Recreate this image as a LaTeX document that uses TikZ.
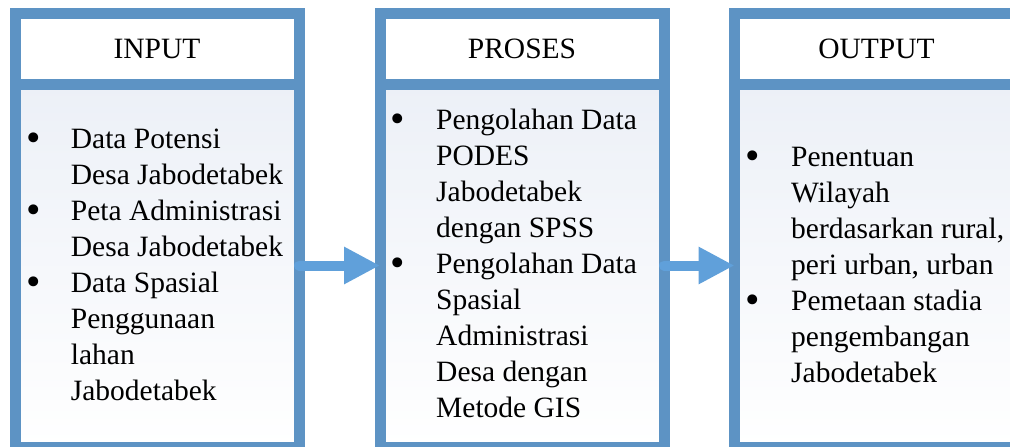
\documentclass[tikz,border=0pt]{standalone}
\usepackage{fontspec}
\setmainfont{Liberation Serif}
\newfontfamily\timesfont{Liberation Serif}
\usetikzlibrary{arrows.meta, positioning}
\definecolor{frameblue}{RGB}{93,147,196}
\definecolor{arrowblue}{RGB}{96,160,218}
\definecolor{bodytop}{RGB}{236,240,247}
\newcommand{\bul}{\raisebox{-3pt}{\scalebox{1.4}{\textbullet}}}

\begin{document}
\begin{tikzpicture}[
    x=1pt, y=-1pt,
    frame/.style={rectangle, draw=frameblue, line width=11pt, outer sep=0pt, minimum width=284pt},
    head/.style={frame, fill=white, minimum height=71pt, font=\timesfont\fontsize{29.5}{36}\selectfont},
    body/.style={frame, top color=bodytop, bottom color=white, minimum height=363pt},
    items/.style={anchor=base west, inner sep=0pt, font=\timesfont\fontsize{29.5}{36}\selectfont},
    flow/.style={arrowblue, line width=10pt, line cap=round, -{Triangle[length=36pt, width=35pt]}}
]
    \useasboundingbox (0,0) rectangle (1010,447);

    % Header nodes
    \node[head] (inHead) at (157,48.5) {INPUT};
    \node[head, right=81pt of inHead] (procHead) {PROSES};
    \node[head, right=70.5pt of procHead] (outHead) {OUTPUT};

    % Body nodes
    \node[body, below=0pt of inHead] (inBody) {};
    \node[body, below=0pt of procHead] (procBody) {};
    \node[body, below=0pt of outHead] (outBody) {};

    % Bullet lists
    \node[items] (inList) at (26,148) {\begin{tabular}[t]{@{}p{44.7pt}@{}l@{}}
        \bul & Data Potensi\\
             & Desa Jabodetabek\\
        \bul & Peta Administrasi\\
             & Desa Jabodetabek\\
        \bul & Data Spasial\\
             & Penggunaan\\
             & lahan\\
             & Jabodetabek
    \end{tabular}};
    \node[items] (procList) at (390,129.3) {\begin{tabular}[t]{@{}p{46pt}@{}l@{}}
        \bul & Pengolahan Data\\
             & PODES\\
             & Jabodetabek\\
             & dengan SPSS\\
        \bul & Pengolahan Data\\
             & Spasial\\
             & Administrasi\\
             & Desa dengan\\
             & Metode GIS
    \end{tabular}};
    \node[items] (outList) at (745,166.7) {\begin{tabular}[t]{@{}p{46pt}@{}l@{}}
        \bul & Penentuan\\
             & Wilayah\\
             & berdasarkan rural,\\
             & peri urban, urban\\
        \bul & Pemetaan stadia\\
             & pengembangan\\
             & Jabodetabek
    \end{tabular}};

    % Flow arrows
    \draw[flow] (inBody) -- (procBody);
    \draw[flow] (procBody) -- (outBody);

\end{tikzpicture}
\end{document}
